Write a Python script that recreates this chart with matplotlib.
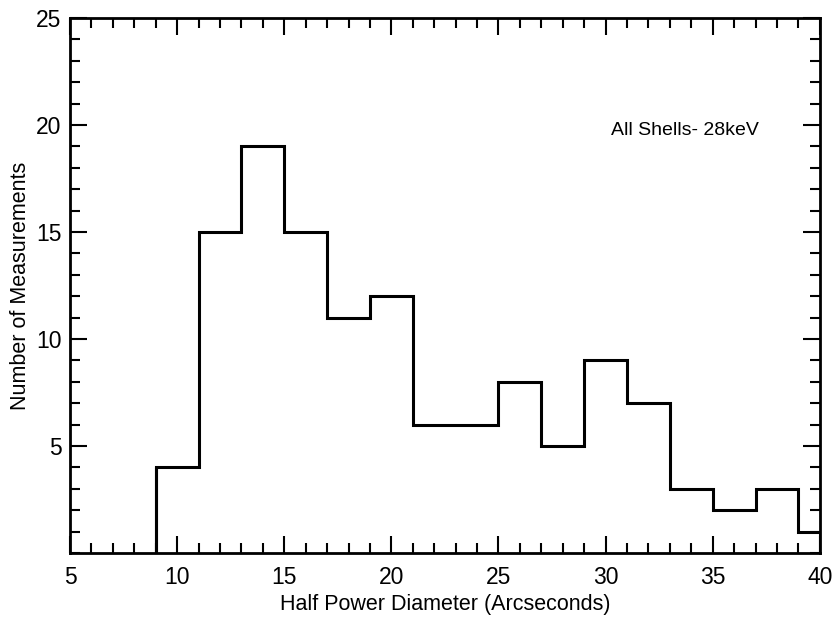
import matplotlib
matplotlib.use("Agg")
import matplotlib.pyplot as plt
from matplotlib.ticker import MultipleLocator

plt.rcParams['font.family'] = ['Liberation Sans', 'DejaVu Sans']

# bin edges (arcseconds) and counts
edges = [9, 11, 13, 15, 17, 19, 21, 23, 25, 27, 29, 31, 33, 35, 37, 39, 40]
counts = [4, 15, 19, 15, 11, 12, 6, 6, 8, 5, 9, 7, 3, 2, 3, 1]
xticks = [5, 10, 15, 20, 25, 30, 35, 40]
yticks = [5, 10, 15, 20, 25]

fig = plt.figure(figsize=(8.34, 6.18), dpi=100)
ax = fig.add_axes([0.084, 0.105, 0.899, 0.866])

ax.stairs(counts, edges, color='black', linewidth=2.2, baseline=0, fill=False)
ax.vlines(edges[0], 0, counts[0], color='black', linewidth=2.2)

ax.set_xlim(5, 40)
ax.set_ylim(0, 25)
ax.set_xticks(xticks)
ax.set_yticks(yticks)
ax.xaxis.set_minor_locator(MultipleLocator(1))
ax.yaxis.set_minor_locator(MultipleLocator(1))
ax.tick_params(which='both', direction='in', top=True, right=True, width=1.5,
               labelsize=16.5, colors='black')
ax.tick_params(which='major', length=12, pad=9)
ax.tick_params(axis='y', which='major', pad=6)
ax.tick_params(which='minor', length=7)
for s in ax.spines.values():
    s.set_linewidth(2)

ax.set_xlabel('Half Power Diameter (Arcseconds)', fontsize=15.5, labelpad=4)
ax.set_ylabel('Number of Measurements', fontsize=15.5, labelpad=4)
ax.text(0.82, 0.79, 'All Shells- 28keV', transform=ax.transAxes,
        fontsize=14, ha='center', va='center')

fig.savefig('out.png', dpi=100)
